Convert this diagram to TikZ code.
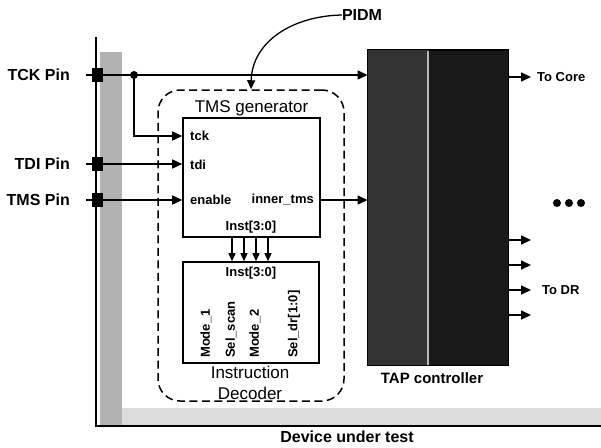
\documentclass[tikz,border=0pt]{standalone}
\usepackage{fontspec}
\setmainfont{Liberation Sans}
\usetikzlibrary{arrows.meta}
\begin{document}
\begin{tikzpicture}[x=1pt,y=-1pt,
  wire/.style={line width=1.6pt, -{Triangle[length=10pt,width=9pt]}},
  thinwire/.style={line width=1.3pt, -{Triangle[length=8pt,width=7pt]}},
  lbl/.style={font=\fontsize{16}{18}\selectfont\bfseries, inner sep=0pt},
  port/.style={font=\fontsize{13}{15}\selectfont\bfseries, inner sep=0pt},
  title/.style={font=\fontsize{17}{20}\selectfont, inner sep=0pt, align=center},
  blk/.style={draw, line width=1.6pt, fill=white, inner sep=0pt},
  pin/.style={fill=black, minimum width=11pt, minimum height=14pt, inner sep=0pt},
]
\useasboundingbox (0,0) rectangle (601,447);
\fill[white] (0,0) rectangle (601,447);

% device under test boundary and shaded band
\fill[gray!60] (100,52) rectangle (122,426);
\fill[gray!28] (122,408) rectangle (601,425);
\draw[line width=1.5pt] (96,37) -- (96,426) -- (601,426);
\node[lbl] (dut) at (347,437) {Device under test};

% PIDM dashed region
\node[draw, line width=1.5pt, dash pattern=on 8pt off 4.5pt, rounded corners=22pt,
      minimum width=186pt, minimum height=311pt, inner sep=0pt] (pidmbox) at (251,245.5) {};
\node[lbl] (pidm) at (362,15) {PIDM};
\draw[line width=1.3pt, -{Triangle[length=9pt,width=8pt]}]
  (pidm.west) .. controls (292,16) and (252,42) .. (pidmbox.north);

% TMS generator
\node[blk, minimum width=137pt, minimum height=119pt] (tmsgen) at (251.5,177.5) {};
\node[title] (tmstitle) at (251.5,108) {TMS generator};
\node[port, anchor=west] (tckp) at (190,136) {tck};
\node[port, anchor=west] (tdip) at (190,165) {tdi};
\node[port, anchor=west] (enp) at (190,200) {enable};
\node[port, anchor=east] (itms) at (314,200) {inner\_tms};
\node[port] (instout) at (251,227) {Inst[3:0]};

% Instruction decoder
\node[blk, minimum width=136pt, minimum height=101pt] (dec) at (251,312.5) {};
\node[port] (instin) at (251,273) {Inst[3:0]};
\node[port, rotate=90, anchor=west] (m1) at (206,358) {Mode\_1};
\node[port, rotate=90, anchor=west] (ss) at (231,358) {Sel\_scan};
\node[port, rotate=90, anchor=west] (m2) at (255,358) {Mode\_2};
\node[port, rotate=90, anchor=west] (sd) at (294,358) {Sel\_dr[1:0]};
\node[title] (dectitle) at (250,383) {Instruction\\[1pt]Decoder};

\foreach \x [count=\i] in {232,244,256,268} {
  \coordinate (i\i) at (\x,0);
  \draw[thinwire] (tmsgen.south -| i\i) -- (dec.north -| i\i);
}

% TAP controller
\node[draw, line width=1pt, fill=black!90, minimum width=140pt, minimum height=315pt, inner sep=0pt] (tap) at (438,207.5) {};
\fill[black!80] (tap.north west) rectangle (428,365);
\draw[gray!55, line width=1.2pt] (428,50.5) -- (428,364.5);
\draw[line width=1pt] (tap.north west) rectangle (tap.south east);
\node[font=\fontsize{15}{18}\selectfont\bfseries, inner sep=0pt] (taplbl) at (432,378) {TAP controller};

% pins
\node[lbl, anchor=east] (tcklbl) at (70,75) {TCK Pin};
\node[lbl, anchor=east] (tdilbl) at (70,164) {TDI Pin};
\node[lbl, anchor=east] (tmslbl) at (70,200) {TMS Pin};
\coordinate (tckst) at (86,75);
\coordinate (tdist) at (86,164);
\coordinate (tmsst) at (86,200);
\coordinate (split) at (134,75);

\draw[wire] (tckst) -- (tap.west |- tckst);
\draw[wire] (split) |- (tmsgen.west |- tckp);
\fill (split) circle (4pt);
\draw[wire] (tdist) -- (tmsgen.west |- tdist);
\draw[wire] (tmsst) -- (tmsgen.west |- tmsst);
\draw[wire] (tmsgen.east |- itms) -- (tap.west |- itms);

\node[pin] (tckpin) at (97,75) {};
\node[pin] (tdipin) at (97,164) {};
\node[pin] (tmspin) at (97,200) {};

% outputs
\coordinate (core) at (531,77);
\draw[wire] (tap.east |- core) -- (core);
\node[port, anchor=west] (corelbl) at (537,77) {To Core};
\foreach \y [count=\j] in {240,265,290,315} {
  \coordinate (dr\j) at (531,\y);
  \draw[wire] (tap.east |- dr\j) -- (dr\j);
}
\node[port, anchor=west] (drlbl) at (542,290) {To DR};

% ellipsis dots
\fill (557,203) circle (4pt) (569,203) circle (4pt) (581,203) circle (4pt);
\end{tikzpicture}
\end{document}
